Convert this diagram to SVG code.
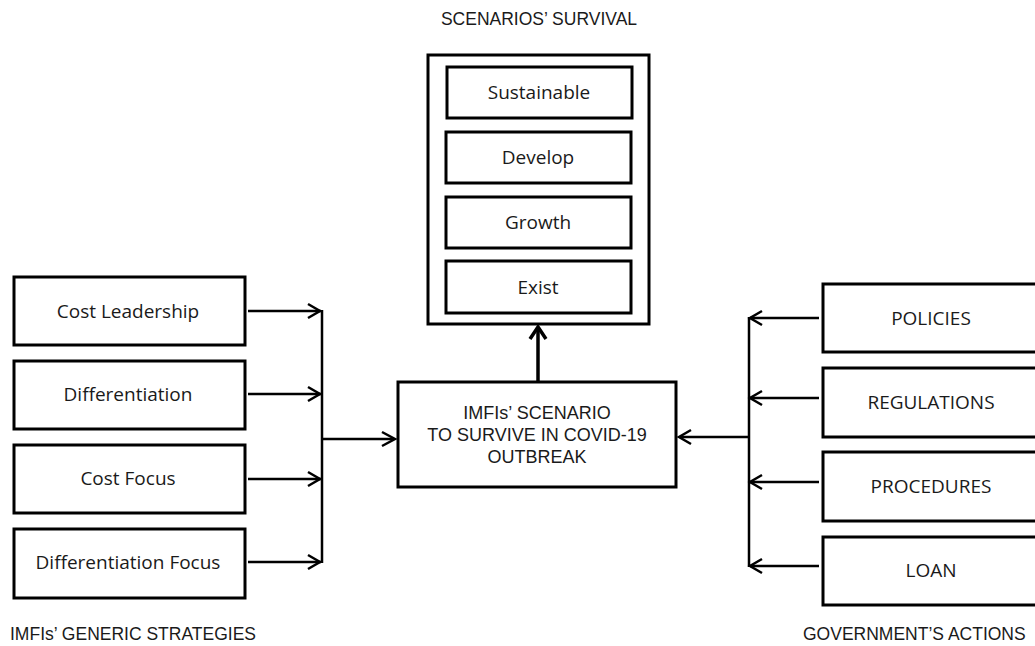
<svg xmlns="http://www.w3.org/2000/svg" width="1035" height="646" viewBox="0 0 1035 646">
<style>
.box{fill:#fff;stroke:#000;stroke-width:3}
.t{font-family:"Open Sans","Liberation Sans",Arial,sans-serif;font-size:19px;fill:#1a1a1a;text-anchor:middle;dominant-baseline:central}
.c{font-family:"Liberation Sans",Arial,sans-serif;font-size:18px}
.lab{font-family:"Liberation Sans",Arial,sans-serif;font-size:17.5px;fill:#1a1a1a;dominant-baseline:central}
.ln{fill:none;stroke:#000;stroke-width:2.5}
.ah{fill:none;stroke:#000;stroke-width:2.5;stroke-linejoin:miter}
</style>
<rect width="1035" height="646" fill="#fff"/>
<text class="lab" x="539" y="19" text-anchor="middle">SCENARIOS’ SURVIVAL</text>
<text class="lab" x="10" y="634">IMFIs’ GENERIC STRATEGIES</text>
<text class="lab" x="803" y="634">GOVERNMENT’S ACTIONS</text>

<g id="survival">
<rect class="box" x="428" y="55" width="221" height="269"/>
<g id="sustainable"><rect class="box" x="447" y="67" width="185" height="51"/><text class="t" x="539" y="92">Sustainable</text></g>
<g id="develop"><rect class="box" x="446" y="132" width="185" height="51"/><text class="t" x="538" y="157">Develop</text></g>
<g id="growth"><rect class="box" x="446" y="197" width="185" height="51"/><text class="t" x="538" y="222">Growth</text></g>
<g id="exist"><rect class="box" x="446" y="261" width="185" height="52"/><text class="t" x="538" y="287">Exist</text></g>
</g>

<g id="center"><rect class="box" x="398" y="382" width="278" height="105"/>
<text class="t c" x="537" y="413">IMFIs’ SCENARIO</text>
<text class="t c" x="537" y="435">TO SURVIVE IN COVID-19</text>
<text class="t c" x="537" y="457">OUTBREAK</text></g>

<g id="cost-leadership"><rect class="box" x="14" y="277" width="231" height="68"/><text class="t" x="128" y="311">Cost Leadership</text></g>
<g id="differentiation"><rect class="box" x="14" y="361" width="231" height="68"/><text class="t" x="128" y="394">Differentiation</text></g>
<g id="cost-focus"><rect class="box" x="14" y="445" width="231" height="68"/><text class="t" x="128" y="478">Cost Focus</text></g>
<g id="diff-focus"><rect class="box" x="14" y="529" width="231" height="69"/><text class="t" x="128" y="562">Differentiation Focus</text></g>

<g id="policies"><rect class="box" x="823" y="284" width="220" height="68"/><text class="t" x="931" y="318">POLICIES</text></g>
<g id="regulations"><rect class="box" x="823" y="368" width="220" height="69"/><text class="t" x="931" y="402">REGULATIONS</text></g>
<g id="procedures"><rect class="box" x="823" y="452" width="220" height="69"/><text class="t" x="931" y="486">PROCEDURES</text></g>
<g id="loan"><rect class="box" x="823" y="537" width="220" height="68"/><text class="t" x="931" y="570">LOAN</text></g>

<g id="connectors">
<path class="ln" d="M248 311H321M248 394H321M248 479H321M248 562H321M322 310V563M322 439H394"/>
<path class="ah" d="M308 304L320 311L308 318M308 387L320 394L308 401M308 472L320 479L308 486M308 555L320 562L308 569M382 432L395 439L382 446"/>
<path class="ln" d="M819 318H750M819 398H750M819 482H750M819 566H750M749 317V567M748 437H680"/>
<path class="ah" d="M762 311L750 318L762 325M762 391L750 398L762 405M762 475L750 482L762 489M762 559L750 566L762 573M691 430L679 437L691 444"/>
<path class="ln" d="M538 381V328" style="stroke-width:3.5"/>
<path class="ah" d="M530 339L538 327L546 339" style="stroke-width:3.5"/>
</g>
</svg>
